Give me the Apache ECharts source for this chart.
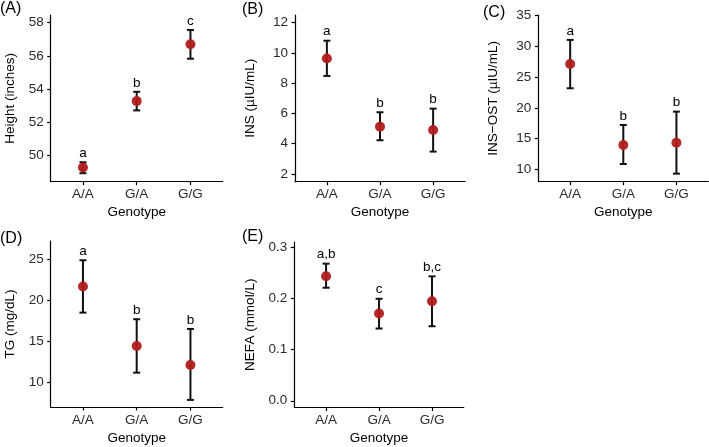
<!DOCTYPE html>
<html>
<head>
<meta charset="utf-8">
<script src="https://cdn.jsdelivr.net/npm/echarts@6/dist/echarts.min.js"></script>
<style>html,body{margin:0;padding:0;background:#fff}#c{width:709px;height:447px}</style>
</head>
<body>
<div id="c"></div>
<script>
var genotypes = ['A/A', 'G/A', 'G/G'];

var heightMean = [49.28, 53.28, 56.70];
var heightLo   = [48.94, 52.72, 55.83];
var heightHi   = [49.60, 53.84, 57.56];
var heightLetters = ['a', 'b', 'c'];
var heightTicks = [50, 52, 54, 56, 58];

var insMean = [9.64, 5.13, 4.91];
var insLo   = [8.48, 4.23, 3.48];
var insHi   = [10.81, 6.08, 6.32];
var insLetters = ['a', 'b', 'b'];
var insTicks = [2, 4, 6, 8, 10, 12];

var ostMean = [27.14, 13.96, 14.33];
var ostLo   = [23.18, 10.86, 9.29];
var ostHi   = [31.05, 17.21, 19.38];
var ostLetters = ['a', 'b', 'b'];
var ostTicks = [10, 15, 20, 25, 30, 35];

var tgMean = [21.70, 14.41, 12.08];
var tgLo   = [18.50, 11.14, 7.80];
var tgHi   = [24.92, 17.69, 16.50];
var tgLetters = ['a', 'b', 'b'];
var tgTicks = [10, 15, 20, 25];

var nefaMean = [0.244, 0.171, 0.195];
var nefaLo   = [0.2214, 0.1415, 0.146];
var nefaHi   = [0.2686, 0.1998, 0.2437];
var nefaLetters = ['a,b', 'c', 'b,c'];
var nefaTicks = [0.0, 0.1, 0.2, 0.3];

var FONT = '"Liberation Sans", Arial, sans-serif';

var panels = [
  {tag: '(A)', name: 'Height (inches)', mean: heightMean, lo: heightLo, hi: heightHi, letters: heightLetters, ticks: heightTicks, min: 48.43, max: 58.46, dec: 0,
   grid: {left: 50.7, top: 15, width: 172, height: 166.7}, nameGap: 33, title: {left: 0, top: 1}},
  {tag: '(B)', name: 'INS (\u00b5IU/mL)', mean: insMean, lo: insLo, hi: insHi, letters: insLetters, ticks: insTicks, min: 1.49, max: 12.51, dec: 0,
   grid: {left: 295, top: 15, width: 170, height: 166.7}, nameGap: 38, title: {left: 242, top: 2}},
  {tag: '(C)', name: 'INS\u2212OST (\u00b5IU/mL)', mean: ostMean, lo: ostLo, hi: ostHi, letters: ostLetters, ticks: ostTicks, min: 7.98, max: 35.1, dec: 0,
   grid: {left: 538.3, top: 15, width: 170, height: 166.7}, nameGap: 38, title: {left: 483, top: 5}},
  {tag: '(D)', name: 'TG (mg/dL)', mean: tgMean, lo: tgLo, hi: tgHi, letters: tgLetters, ticks: tgTicks, min: 6.93, max: 27.28, dec: 0,
   grid: {left: 50.7, top: 241, width: 172, height: 166}, nameGap: 33, title: {left: 0, top: 231}},
  {tag: '(E)', name: 'NEFA (mmol/L)', mean: nefaMean, lo: nefaLo, hi: nefaHi, letters: nefaLetters, ticks: nefaTicks, min: -0.0132, max: 0.311, dec: 1,
   grid: {left: 294.3, top: 242, width: 169.5, height: 165.5}, nameGap: 37, title: {left: 242, top: 229}}
];

var option = {
  animation: false,
  backgroundColor: '#fff',
  textStyle: {fontFamily: FONT},
  title: [], grid: [], xAxis: [], yAxis: [], series: []
};

panels.forEach(function (p, i) {
  option.title.push({
    text: p.tag, left: p.title.left, top: p.title.top, padding: 0,
    textStyle: {fontSize: 16, fontWeight: 'normal', color: '#000', fontFamily: FONT}
  });
  option.grid.push(p.grid);
  option.xAxis.push({
    type: 'value', gridIndex: i, min: 0.4, max: 3.6,
    name: 'Genotype', nameLocation: 'middle', nameGap: 24,
    nameTextStyle: {fontSize: 13.5, color: '#000', fontFamily: FONT},
    axisLine: {show: true, onZero: false, lineStyle: {color: '#000', width: 1.2}},
    axisTick: {show: true, length: 3.5, lineStyle: {color: '#000', width: 1.2}, customValues: [1, 2, 3]},
    axisLabel: {show: true, fontSize: 13.5, color: '#2b2b2b', margin: 6, fontFamily: FONT, customValues: [1, 2, 3],
      formatter: function (v) { return genotypes[Math.round(v) - 1]; }},
    splitLine: {show: false}
  });
  option.yAxis.push({
    type: 'value', gridIndex: i, min: p.min, max: p.max,
    name: p.name, nameLocation: 'middle', nameGap: p.nameGap,
    nameTextStyle: {fontSize: 13.5, color: '#000', fontFamily: FONT},
    axisLine: {show: true, onZero: false, lineStyle: {color: '#000', width: 1.2}},
    axisTick: {show: true, length: 3.5, lineStyle: {color: '#000', width: 1.2}, customValues: p.ticks},
    axisLabel: {show: true, fontSize: 13.5, color: '#2b2b2b', margin: 7, fontFamily: FONT, customValues: p.ticks,
      formatter: (function (d) { return function (v) { return v.toFixed(d); }; })(p.dec)},
    splitLine: {show: false}
  });
  var ebData = p.mean.map(function (m, j) { return [j + 1, p.lo[j], p.hi[j]]; });
  option.series.push({
    type: 'custom', xAxisIndex: i, yAxisIndex: i, z: 2, data: ebData,
    renderItem: function (params, api) {
      var x = api.value(0);
      var a = api.coord([x, api.value(1)]);
      var b = api.coord([x, api.value(2)]);
      var w = 3.5;
      var st = {stroke: '#111', lineWidth: 2};
      return {type: 'group', children: [
        {type: 'line', shape: {x1: a[0], y1: a[1], x2: b[0], y2: b[1]}, style: st},
        {type: 'line', shape: {x1: a[0] - w, y1: a[1], x2: a[0] + w, y2: a[1]}, style: st},
        {type: 'line', shape: {x1: b[0] - w, y1: b[1], x2: b[0] + w, y2: b[1]}, style: st}
      ]};
    }
  });
  option.series.push({
    type: 'scatter', xAxisIndex: i, yAxisIndex: i, z: 3,
    symbol: 'circle', symbolSize: 10,
    itemStyle: {color: '#B01C1C', opacity: 0.95},
    data: p.mean.map(function (m, j) { return [j + 1, m]; })
  });
  option.series.push({
    type: 'custom', xAxisIndex: i, yAxisIndex: i, z: 4,
    data: p.mean.map(function (m, j) { return [j + 1, p.hi[j]]; }),
    renderItem: (function (letters) {
      return function (params, api) {
        var pt = api.coord([api.value(0), api.value(1)]);
        return {type: 'text', x: pt[0], y: pt[1] - 2,
          style: {text: letters[params.dataIndex], align: 'center', verticalAlign: 'bottom',
            fontSize: 13.5, fill: '#000', fontFamily: FONT}};
      };
    })(p.letters)
  });
});

var chart = echarts.init(document.getElementById('c'), null, {renderer: 'canvas'});
chart.setOption(option);
</script>
</body>
</html>
